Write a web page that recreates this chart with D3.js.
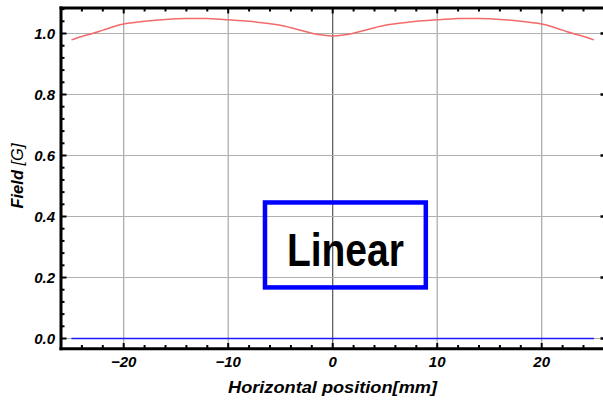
<!DOCTYPE html>
<html><head><meta charset="utf-8">
<script src="https://cdn.jsdelivr.net/npm/d3@7"></script>
<style>
html,body{margin:0;padding:0;background:#fff;}
text{font-family:"Liberation Sans",Arial,sans-serif;}
</style></head>
<body>
<svg id="c" width="603" height="401"></svg>
<script>
// ---- data ----
const redX = [-25,-24,-23,-22,-21,-20,-18,-16,-14,-12,-10,-8,-7,-6,-5,-4,-3,-2,-1,0,1,2,3,4,5,6,7,8,10,12,14,16,18,20,21,22,23,24,25];
const redY = [0.979,0.990,1.000,1.011,1.022,1.031,1.040,1.046,1.049,1.049,1.045,1.040,1.036,1.032,1.027,1.019,1.010,1.001,0.995,0.992,0.995,1.001,1.010,1.019,1.027,1.032,1.036,1.040,1.045,1.049,1.049,1.046,1.040,1.031,1.022,1.011,1.000,0.990,0.979];
const blueX = [-25, 25];
const blueY = [0, 0];
const xTicks = [-20,-10,0,10,20];
const yTicks = [0.0,0.2,0.4,0.6,0.8,1.0];
const xLabel = "Horizontal position[mm]";
const yLabelMain = "Field ";
const yLabelUnit = "[G]";
const boxText = "Linear";
const boxX = [-6.48, 8.91];
const boxY = [0.1675, 0.446];

const svg = d3.select("#c");
const x = d3.scaleLinear().domain([-26, 26]).range([61, 604.4]);
const y = d3.scaleLinear().domain([-0.0334, 1.0836]).range([348.7, 8]);

// grid
svg.append("g").selectAll("line").data(xTicks).join("line")
  .attr("x1", d => x(d)).attr("x2", d => x(d)).attr("y1", 8).attr("y2", 348.7)
  .attr("stroke", d => d === 0 ? "#555" : "#a6a6a6").attr("stroke-width", 1.2);
svg.append("g").selectAll("line").data(yTicks).join("line")
  .attr("x1", 61).attr("x2", 604).attr("y1", d => y(d)).attr("y2", d => y(d))
  .attr("stroke", "#b0b0b0").attr("stroke-width", 1.2);

// series
const blueLine = d3.line().x(d => x(d[0])).y(d => y(d[1]));
const redLine = d3.line().x(d => x(d[0])).y(d => y(d[1])).curve(d3.curveNatural);
svg.append("path").datum(blueX.map((v,i)=>[v, blueY[i]]))
  .attr("d", blueLine).attr("fill","none").attr("stroke","#1a1aff").attr("stroke-width",1.3);
svg.append("path").datum(redX.map((v,i)=>[v, redY[i]]))
  .attr("d", redLine).attr("fill","none").attr("stroke","#f26a6a").attr("stroke-width",1.5);

// minor/major ticks
const xMinor = d3.range(-26, 26.01, 2);
const yMinor = d3.range(-0.0, 1.09, 0.04).map(v => +v.toFixed(2));
const frame = svg.append("g");
frame.selectAll(".tb").data(xMinor).join("line")
  .attr("x1", d=>x(d)).attr("x2", d=>x(d)).attr("y1", 348.7).attr("y2", d => xTicks.includes(d) ? 343 : 345)
  .attr("stroke","#000").attr("stroke-width",2);
frame.selectAll(".tt").data(xMinor).join("line")
  .attr("x1", d=>x(d)).attr("x2", d=>x(d)).attr("y1", 8).attr("y2", d => xTicks.includes(d) ? 13.5 : 11.5)
  .attr("stroke","#000").attr("stroke-width",2);
frame.selectAll(".tl").data(yMinor).join("line")
  .attr("x1", 61).attr("x2", d => yTicks.some(t=>Math.abs(t-d)<1e-6) ? 66.5 : 64.5).attr("y1", d=>y(d)).attr("y2", d=>y(d))
  .attr("stroke","#000").attr("stroke-width",2);
frame.selectAll(".tr").data(yTicks).join("line")
  .attr("x1", 600.5).attr("x2", 604).attr("y1", d=>y(d)).attr("y2", d=>y(d))
  .attr("stroke","#000").attr("stroke-width",2.5);
frame.append("line").attr("x1",61).attr("x2",61).attr("y1",6.5).attr("y2",350.2).attr("stroke","#000").attr("stroke-width",3);
frame.append("line").attr("x1",59.5).attr("x2",604).attr("y1",348.7).attr("y2",348.7).attr("stroke","#000").attr("stroke-width",3);
frame.append("line").attr("x1",59.5).attr("x2",604).attr("y1",8).attr("y2",8).attr("stroke","#000").attr("stroke-width",3);

// tick labels
svg.append("g").selectAll("text").data(yTicks).join("text")
  .attr("x", 55).attr("y", d => y(d)).attr("dy","0.36em").attr("text-anchor","end")
  .attr("font-size",15).attr("font-weight","bold").attr("font-style","italic")
  .text(d => d.toFixed(1));
svg.append("g").selectAll("text").data(xTicks).join("text")
  .attr("x", d => x(d)).attr("y", 367).attr("text-anchor","middle")
  .attr("font-size",15).attr("font-weight","bold").attr("font-style","italic")
  .text(d => d < 0 ? "\u2212" + Math.abs(d) : String(d));

// axis titles
svg.append("text").attr("x", 332.5).attr("y", 393).attr("text-anchor","middle")
  .attr("font-size",16.5).attr("font-weight","bold").attr("font-style","italic")
  .attr("textLength",209).attr("lengthAdjust","spacingAndGlyphs")
  .text(xLabel);
const yt = svg.append("text").attr("transform","translate(23,176) rotate(-90)").attr("text-anchor","middle")
  .attr("font-size",16.5).attr("font-style","italic");
yt.append("tspan").attr("font-weight","bold").text(yLabelMain);
yt.append("tspan").text(yLabelUnit);

// annotation box
svg.append("rect").attr("x", x(boxX[0])).attr("y", y(boxY[1]))
  .attr("width", x(boxX[1]) - x(boxX[0])).attr("height", y(boxY[0]) - y(boxY[1]))
  .attr("fill","none").attr("stroke","#0000ff").attr("stroke-width",4.5);
svg.append("text").attr("x", (x(boxX[0])+x(boxX[1]))/2).attr("y", 266).attr("text-anchor","middle")
  .attr("font-size",46).attr("font-weight","bold")
  .attr("textLength",117).attr("lengthAdjust","spacingAndGlyphs")
  .text(boxText);
</script>
</body></html>
